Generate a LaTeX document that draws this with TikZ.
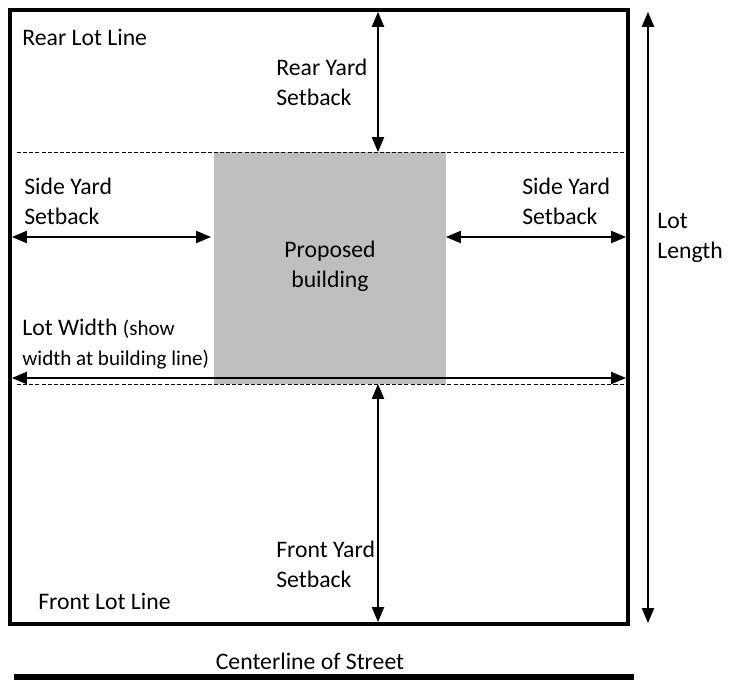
\documentclass[tikz,border=0pt]{standalone}
\usepackage{fontspec}
\setmainfont{Carlito}
\usetikzlibrary{arrows.meta,positioning}
\tikzstyle{lotline}=[line width=2.5pt]
\tikzstyle{setline}=[dash pattern=on 2.3pt off 1.2pt, line width=0.5pt]
\tikzstyle{bldg}=[fill=black!25]
\tikzstyle{dim}=[{Triangle[length=8.5pt,width=7pt]}-{Triangle[length=8.5pt,width=7pt]}, line width=0.7pt]
\tikzstyle{lbl}=[align=left, anchor=west, inner sep=0pt, font=\fontsize{13.5}{17}\selectfont]
\newcommand{\smalltxt}[1]{{\fontsize{12}{17}\selectfont #1}}

\begin{document}
\begin{tikzpicture}[x=0.02cm, y=-0.02cm]
	\useasboundingbox (0,0) rectangle (731,686);
	% building and setback lines
	\fill[bldg] (214,152) rectangle (446,384);
	\draw[setline] (17,152) -- (624,152);
	\draw[setline] (17,384) -- (624,384);
	\draw[lotline] (10,10) rectangle (628,624);
	% arrow ends
	\coordinate (rearA) at (378,12);
	\coordinate (rearB) at (378,152);
	\coordinate (frontA) at (378,384);
	\coordinate (frontB) at (378,622);
	\coordinate (sideLA) at (12,237);
	\coordinate (sideLB) at (211,237);
	\coordinate (sideRA) at (446,237);
	\coordinate (sideRB) at (626,237);
	\coordinate (widthA) at (12,378);
	\coordinate (widthB) at (626,378);
	\coordinate (lenA) at (648,12);
	\coordinate (lenB) at (648,623);
	\draw[dim] (rearA) -- (rearB);
	\draw[dim] (frontA) -- (frontB);
	\draw[dim] (sideLA) -- (sideLB);
	\draw[dim] (sideRA) -- (sideRB);
	\draw[dim] (widthA) -- (widthB);
	\draw[dim] (lenA) -- (lenB);
	% labels
	\node[lbl] (rearlot) at (22,37) {Rear Lot Line};
	\node[lbl] (rearyard) at (276,82) {Rear Yard\\Setback};
	\node[lbl] (sideL) at (24,201) {Side Yard\\Setback};
	\node[lbl] (sideR) at (522,201) {Side Yard\\Setback};
	\node[lbl, align=center, anchor=center] (bname) at (330,266) {Proposed\\building};
	\node[lbl] (lotlen) at (657,238) {Lot\\Length};
	\node[lbl] (lotwidth) at (22,344) {Lot Width \smalltxt{(show}\\\smalltxt{width at building line)}};
	\node[lbl] (frontyard) at (276,564) {Front Yard\\Setback};
	\node[lbl] (frontlot) at (38,601) {Front Lot Line};
	\node[lbl, anchor=center] (street) at (310,661) {Centerline of Street};
	\coordinate (stA) at (14,677);
	\coordinate (stB) at (634,677);
	\draw[line width=3.4pt] (stA) -- (stB);
\end{tikzpicture}
\end{document}
